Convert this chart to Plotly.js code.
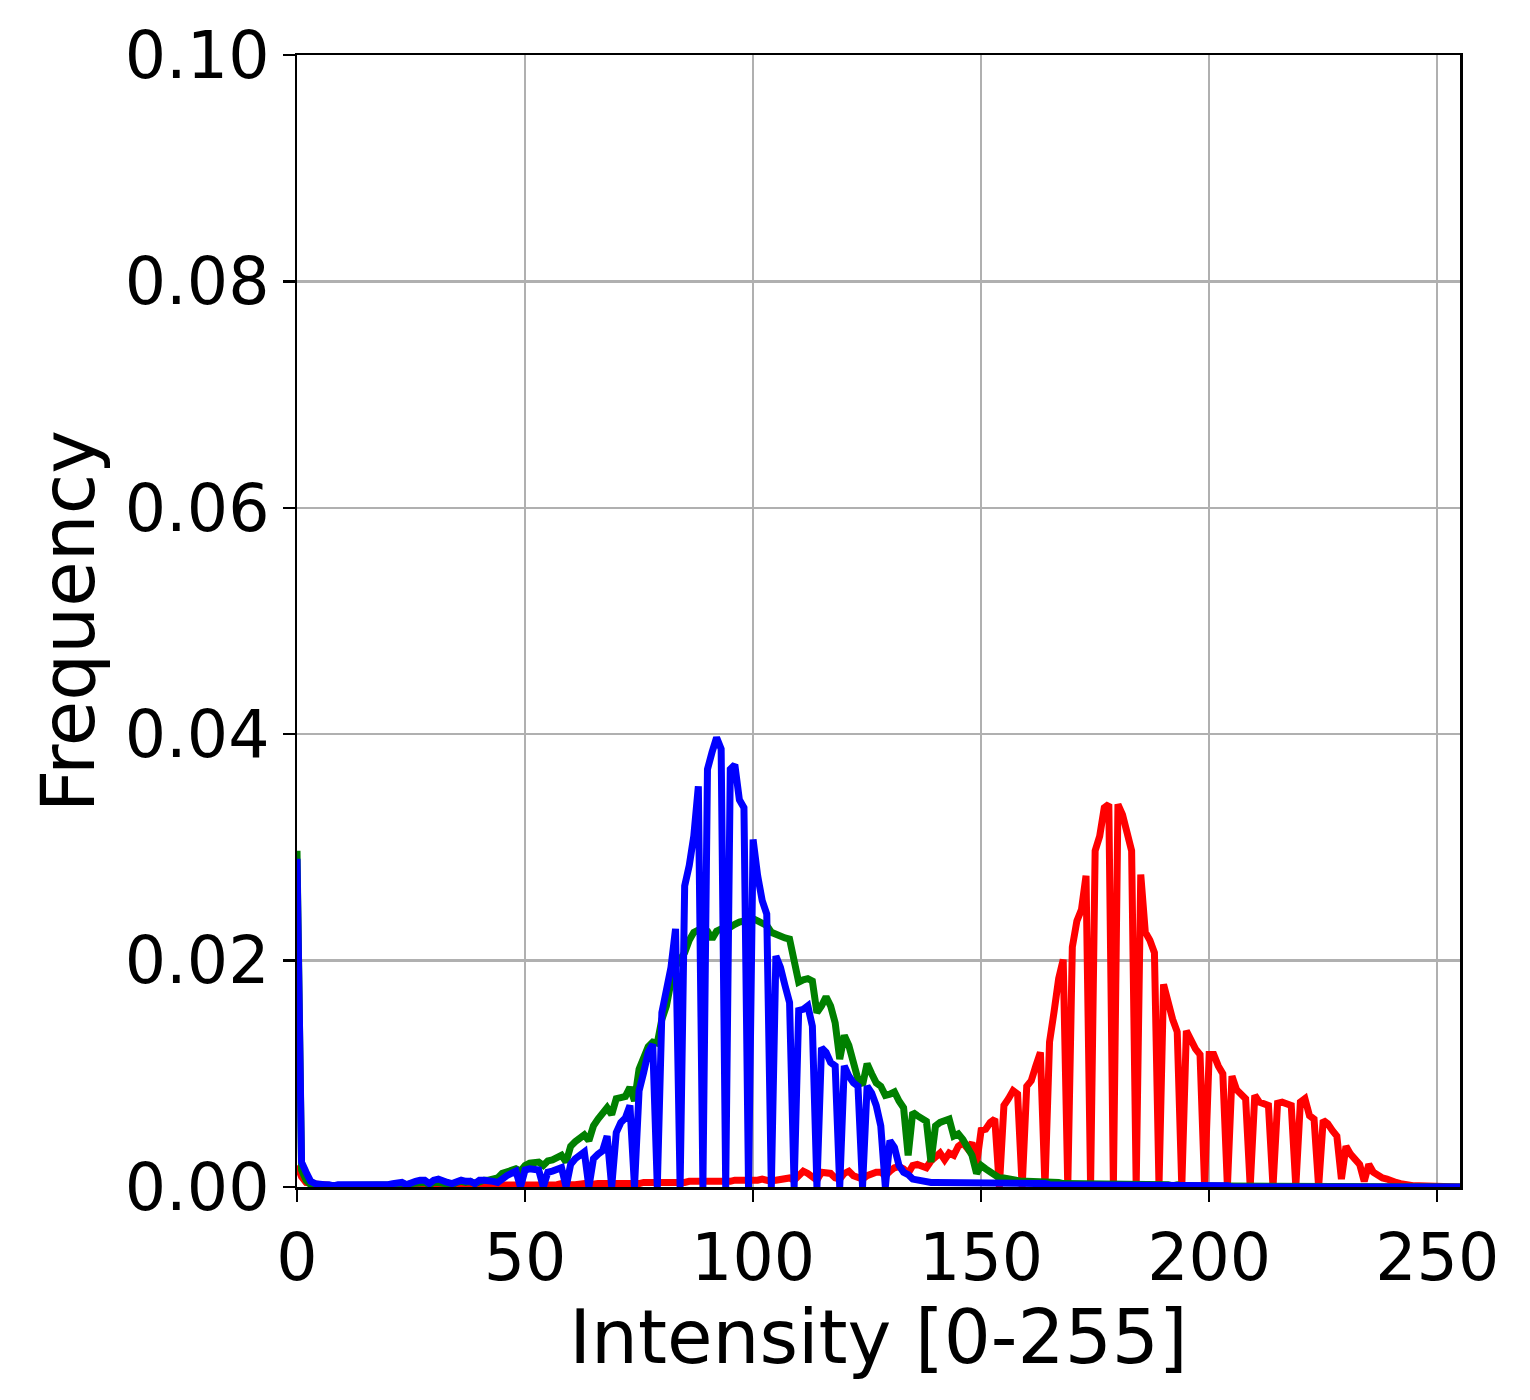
<!DOCTYPE html>
<html>
<head>
<meta charset="utf-8">
<script src="https://cdn.plot.ly/plotly-3.0.1.min.js"></script>
<style>html,body{margin:0;padding:0;background:#fff;}#chart{width:1530px;height:1400px;}</style>
</head>
<body>
<div id="chart"></div>
<script>
// Intensity bins 0..255
const intensity = Array.from({length: 256}, (_, i) => i);

const redFreq = [
0.0019,0.0009,0.0004,0.0003,0.0002,0.0002,0.0002,0.0001,0.0001,0.0001,
0.0001,0.0001,0.0001,0.0001,0.0001,0.0001,0.0001,0.0001,0.0001,0.0001,
0.0001,0.0001,0.0001,0.0001,0.0001,0.0001,0.0001,0.0001,0.0001,0.0001,
0.0001,0.0001,0.0001,0.0001,0.0001,0.0001,0.0001,0.0001,0.0001,0.0001,
0.0001,0.0001,0.0002,0.0001,0.0001,0.0002,0.0002,0.0002,0.0002,0.0001,
0.0002,0.0002,0.0002,0.0002,0.0001,0.0002,0.0002,0.0002,0.0003,0.0002,
0.0002,0.0002,0.0003,0.0003,0.0002,0.0003,0.0003,0.0003,0.0003,0.0002,
0.0003,0.0003,0.0003,0.0003,0.0002,0.0003,0.0004,0.0004,0.0004,0.0003,
0.0004,0.0004,0.0004,0.0004,0.0003,0.0004,0.0005,0.0005,0.0005,0.0004,
0.0005,0.0005,0.0005,0.0005,0.0004,0.0005,0.0006,0.0006,0.0006,0.0005,
0.0006,0.0006,0.0007,0.0006,0.0005,0.0006,0.0007,0.0008,0.0008,0.0006,
0.0011,0.0014,0.0012,0.0009,0.0006,0.0013,0.0013,0.0012,0.0008,0.0007,
0.0012,0.0014,0.0010,0.0009,0.0007,0.0010,0.0012,0.0013,0.0013,0.0010,
0.0014,0.0017,0.0018,0.0016,0.0012,0.0019,0.0020,0.0019,0.0017,0.0023,
0.0026,0.0030,0.0024,0.0030,0.0028,0.0036,0.0039,0.0034,0.0039,0.0020,
0.0050,0.0051,0.0057,0.0060,0,0.0072,0.0078,0.0085,0.0082,0,
0.0089,0.0094,0.0107,0.0119,0,0.0128,0.0155,0.0184,0.0201,0,
0.0212,0.0235,0.0245,0.0275,0,0.0297,0.0310,0.0335,0.0338,0,
0.0338,0.0329,0.0313,0.0297,0,0.0276,0.0225,0.0218,0.0207,0,
0.0179,0.0160,0.0148,0.0137,0,0.0138,0.0128,0.0122,0.0117,0,
0.0117,0.0117,0.0107,0.0100,0,0.0098,0.0086,0.0082,0.0078,0,
0.0081,0.0075,0.0074,0.0072,0,0.0074,0.0075,0.0074,0.0072,0,
0.0075,0.0078,0.0063,0.0060,0,0.0059,0.0056,0.0050,0.0045,0.0007,
0.0036,0.0029,0.0025,0.0020,0.0005,0.0020,0.0013,0.0010,0.0008,0.0007,
0.0005,0.0004,0.0003,0.0002,0.0002,0.0001,0.0001,0.0001,0.0001,0.0001,
0.0001,0.0001,0,0,0,0
];

const greenFreq = [
0.0297,0.0015,0.0006,0.0002,0.0001,0.0001,0.0001,0.0001,0.0001,0.0001,
0.0001,0.0001,0.0001,0.0001,0.0001,0.0001,0.0001,0.0001,0.0001,0.0001,
0.0001,0.0002,0.0002,0.0003,0.0002,0.0003,0.0003,0.0004,0.0004,0.0002,
0.0004,0.0004,0.0003,0.0003,0.0002,0.0004,0.0005,0.0004,0.0005,0.0003,
0.0005,0.0006,0.0006,0.0007,0.0008,0.0012,0.0013,0.0015,0.0016,0.0014,
0.0019,0.0021,0.0022,0.0022,0.0019,0.0023,0.0024,0.0026,0.0028,0.0022,
0.0036,0.0040,0.0044,0.0046,0.0041,0.0054,0.0060,0.0066,0.0070,0.0064,
0.0078,0.0079,0.0080,0.0088,0.0076,0.0104,0.0115,0.0124,0.0128,0.0127,
0.0148,0.0160,0.0181,0.0195,0.0201,0.0207,0.0218,0.0225,0.0227,0.0228,
0.0226,0.0219,0.0226,0.0228,0.0227,0.0230,0.0232,0.0234,0.0235,0.0237,
0.0237,0.0235,0.0233,0.0231,0.0225,0.0223,0.0222,0.0220,0.0219,0.0201,
0.0181,0.0183,0.0184,0.0182,0.0154,0.0160,0.0168,0.0160,0.0145,0.0113,
0.0134,0.0125,0.0110,0.0095,0.0090,0.0109,0.0100,0.0092,0.0089,0.0081,
0.0082,0.0084,0.0076,0.0070,0.0028,0.0066,0.0063,0.0061,0.0058,0.0022,
0.0054,0.0057,0.0058,0.0060,0.0045,0.0047,0.0042,0.0036,0.0028,0.0012,
0.0019,0.0016,0.0013,0.0011,0.0008,0.0008,0.0007,0.0006,0.0006,0.0005,
0.0005,0.0005,0.0005,0.0004,0.0004,0.0004,0.0004,0.0004,0.0003,0.0003,
0.0003,0.0003,0.0003,0.0003,0.0002,0.0003,0.0003,0.0003,0.0002,0.0002,
0.0002,0.0002,0.0002,0.0002,0.0002,0.0002,0.0002,0.0002,0.0002,0.0002,
0.0002,0.0002,0.0001,0.0002,0.0001,0.0001,0.0001,0.0001,0.0001,0.0001,
0.0001,0.0001,0.0001,0.0001,0.0001,0.0001,0.0001,0.0001,0.0001,0.0001,
0.0001,0.0001,0.0001,0.0001,0.0001,0.0001,0.0001,0.0001,0.0001,0.0001,
0.0001,0.0001,0,0,0,0,0,0,0,0,
0,0,0,0,0,0,0,0,0,0,
0,0,0,0,0,0,0,0,0,0,
0,0,0,0,0,0
];

const blueFreq = [
0.0290,0.0022,0.0013,0.0005,0.0003,0.0002,0.0002,0.0002,0.0001,0.0002,
0.0002,0.0002,0.0002,0.0001,0.0002,0.0002,0.0002,0.0002,0.0002,0.0001,
0.0002,0.0003,0.0003,0.0004,0.0002,0.0004,0.0005,0.0006,0.0006,0.0003,
0.0006,0.0007,0.0005,0.0004,0.0003,0.0005,0.0006,0.0005,0.0005,0.0003,
0.0006,0.0006,0.0006,0.0005,0.0004,0.0008,0.0010,0.0012,0.0014,0,
0.0015,0.0016,0.0016,0.0015,0,0.0013,0.0014,0.0015,0.0017,0,
0.0020,0.0025,0.0028,0.0031,0,0.0025,0.0029,0.0032,0.0045,0,
0.0048,0.0057,0.0061,0.0072,0,0.0085,0.0101,0.0119,0.0126,0,
0.0154,0.0178,0.0194,0.0228,0,0.0266,0.0284,0.0310,0.0354,0,
0.0369,0.0384,0.0397,0.0387,0,0.0369,0.0373,0.0342,0.0335,0,
0.0307,0.0275,0.0253,0.0241,0,0.0204,0.0194,0.0178,0.0163,0,
0.0156,0.0157,0.0160,0.0142,0,0.0123,0.0119,0.0110,0.0107,0,
0.0107,0.0098,0.0092,0.0089,0,0.0089,0.0083,0.0072,0.0054,0,
0.0041,0.0035,0.0019,0.0013,0.0011,0.0007,0.0006,0.0005,0.0005,0.0004,
0.0004,0.0004,0.0004,0.0004,0.0004,0.0004,0.0003,0.0003,0.0003,0.0003,
0.0003,0.0003,0.0003,0.0003,0.0003,0.0003,0.0003,0.0003,0.0003,0.0003,
0.0003,0.0003,0.0003,0.0003,0.0003,0.0002,0.0002,0.0002,0.0002,0.0002,
0.0002,0.0002,0.0002,0.0002,0.0002,0.0002,0.0002,0.0002,0.0002,0.0002,
0.0002,0.0002,0.0002,0.0002,0.0002,0.0001,0.0001,0.0001,0.0001,0.0001,
0.0001,0.0001,0.0001,0.0001,0.0001,0.0001,0.0001,0.0001,0.0001,0.0001,
0.0001,0.0001,0.0001,0.0001,0.0001,0,0,0,0,0,
0,0,0,0,0,0,0,0,0,0,
0,0,0,0,0,0,0,0,0,0,
0,0,0,0,0,0,0,0,0,0,
0,0,0,0,0,0,0,0,0,0,
0,0,0,0,0,0
];

const xTicks = [0, 50, 100, 150, 200, 250];
const yTicks = [0.00, 0.02, 0.04, 0.06, 0.08, 0.10];
const xLabel = 'Intensity [0-255]';
const yLabel = 'Frequency';

const lineW = 7;
const traces = [
  {x: intensity, y: redFreq, type: 'scatter', mode: 'lines', name: 'R', line: {color: '#ff0000', width: lineW}},
  {x: intensity, y: greenFreq, type: 'scatter', mode: 'lines', name: 'G', line: {color: '#008000', width: lineW}},
  {x: intensity, y: blueFreq, type: 'scatter', mode: 'lines', name: 'B', line: {color: '#0000ff', width: lineW}}
];

const fontFam = 'DejaVu Sans, sans-serif';
const layout = {
  width: 1530, height: 1400,
  paper_bgcolor: '#ffffff', plot_bgcolor: '#ffffff',
  showlegend: false,
  margin: {l: 297, r: 70, t: 55, b: 213, pad: 0},
  font: {family: fontFam, color: '#000000', size: 65},
  xaxis: {
    range: [0, 255], tickvals: xTicks, ticktext: xTicks.map(String),
    showgrid: true, gridcolor: '#b0b0b0', gridwidth: 2.5,
    zeroline: false, showline: true, linecolor: '#000000', linewidth: 2.5, mirror: true,
    ticks: 'outside', ticklen: 12, tickwidth: 2.5, tickcolor: '#000000',
    tickfont: {family: fontFam, size: 65, color: '#000000'},
    title: {text: xLabel, font: {family: fontFam, size: 74, color: '#000000'}, standoff: 2},
    automargin: true
  },
  yaxis: {
    range: [0, 0.1], tickvals: yTicks, ticktext: yTicks.map(v => v.toFixed(2)),
    showgrid: true, gridcolor: '#b0b0b0', gridwidth: 2.5,
    zeroline: false, showline: true, linecolor: '#000000', linewidth: 2.5, mirror: true,
    ticks: 'outside', ticklen: 12, tickwidth: 2.5, tickcolor: '#000000',
    tickfont: {family: fontFam, size: 65, color: '#000000'},
    title: {text: yLabel, font: {family: fontFam, size: 74, color: '#000000'}, standoff: 6},
    automargin: false
  }
};

Plotly.newPlot('chart', traces, layout, {displayModeBar: false, staticPlot: true});
</script>
</body>
</html>
